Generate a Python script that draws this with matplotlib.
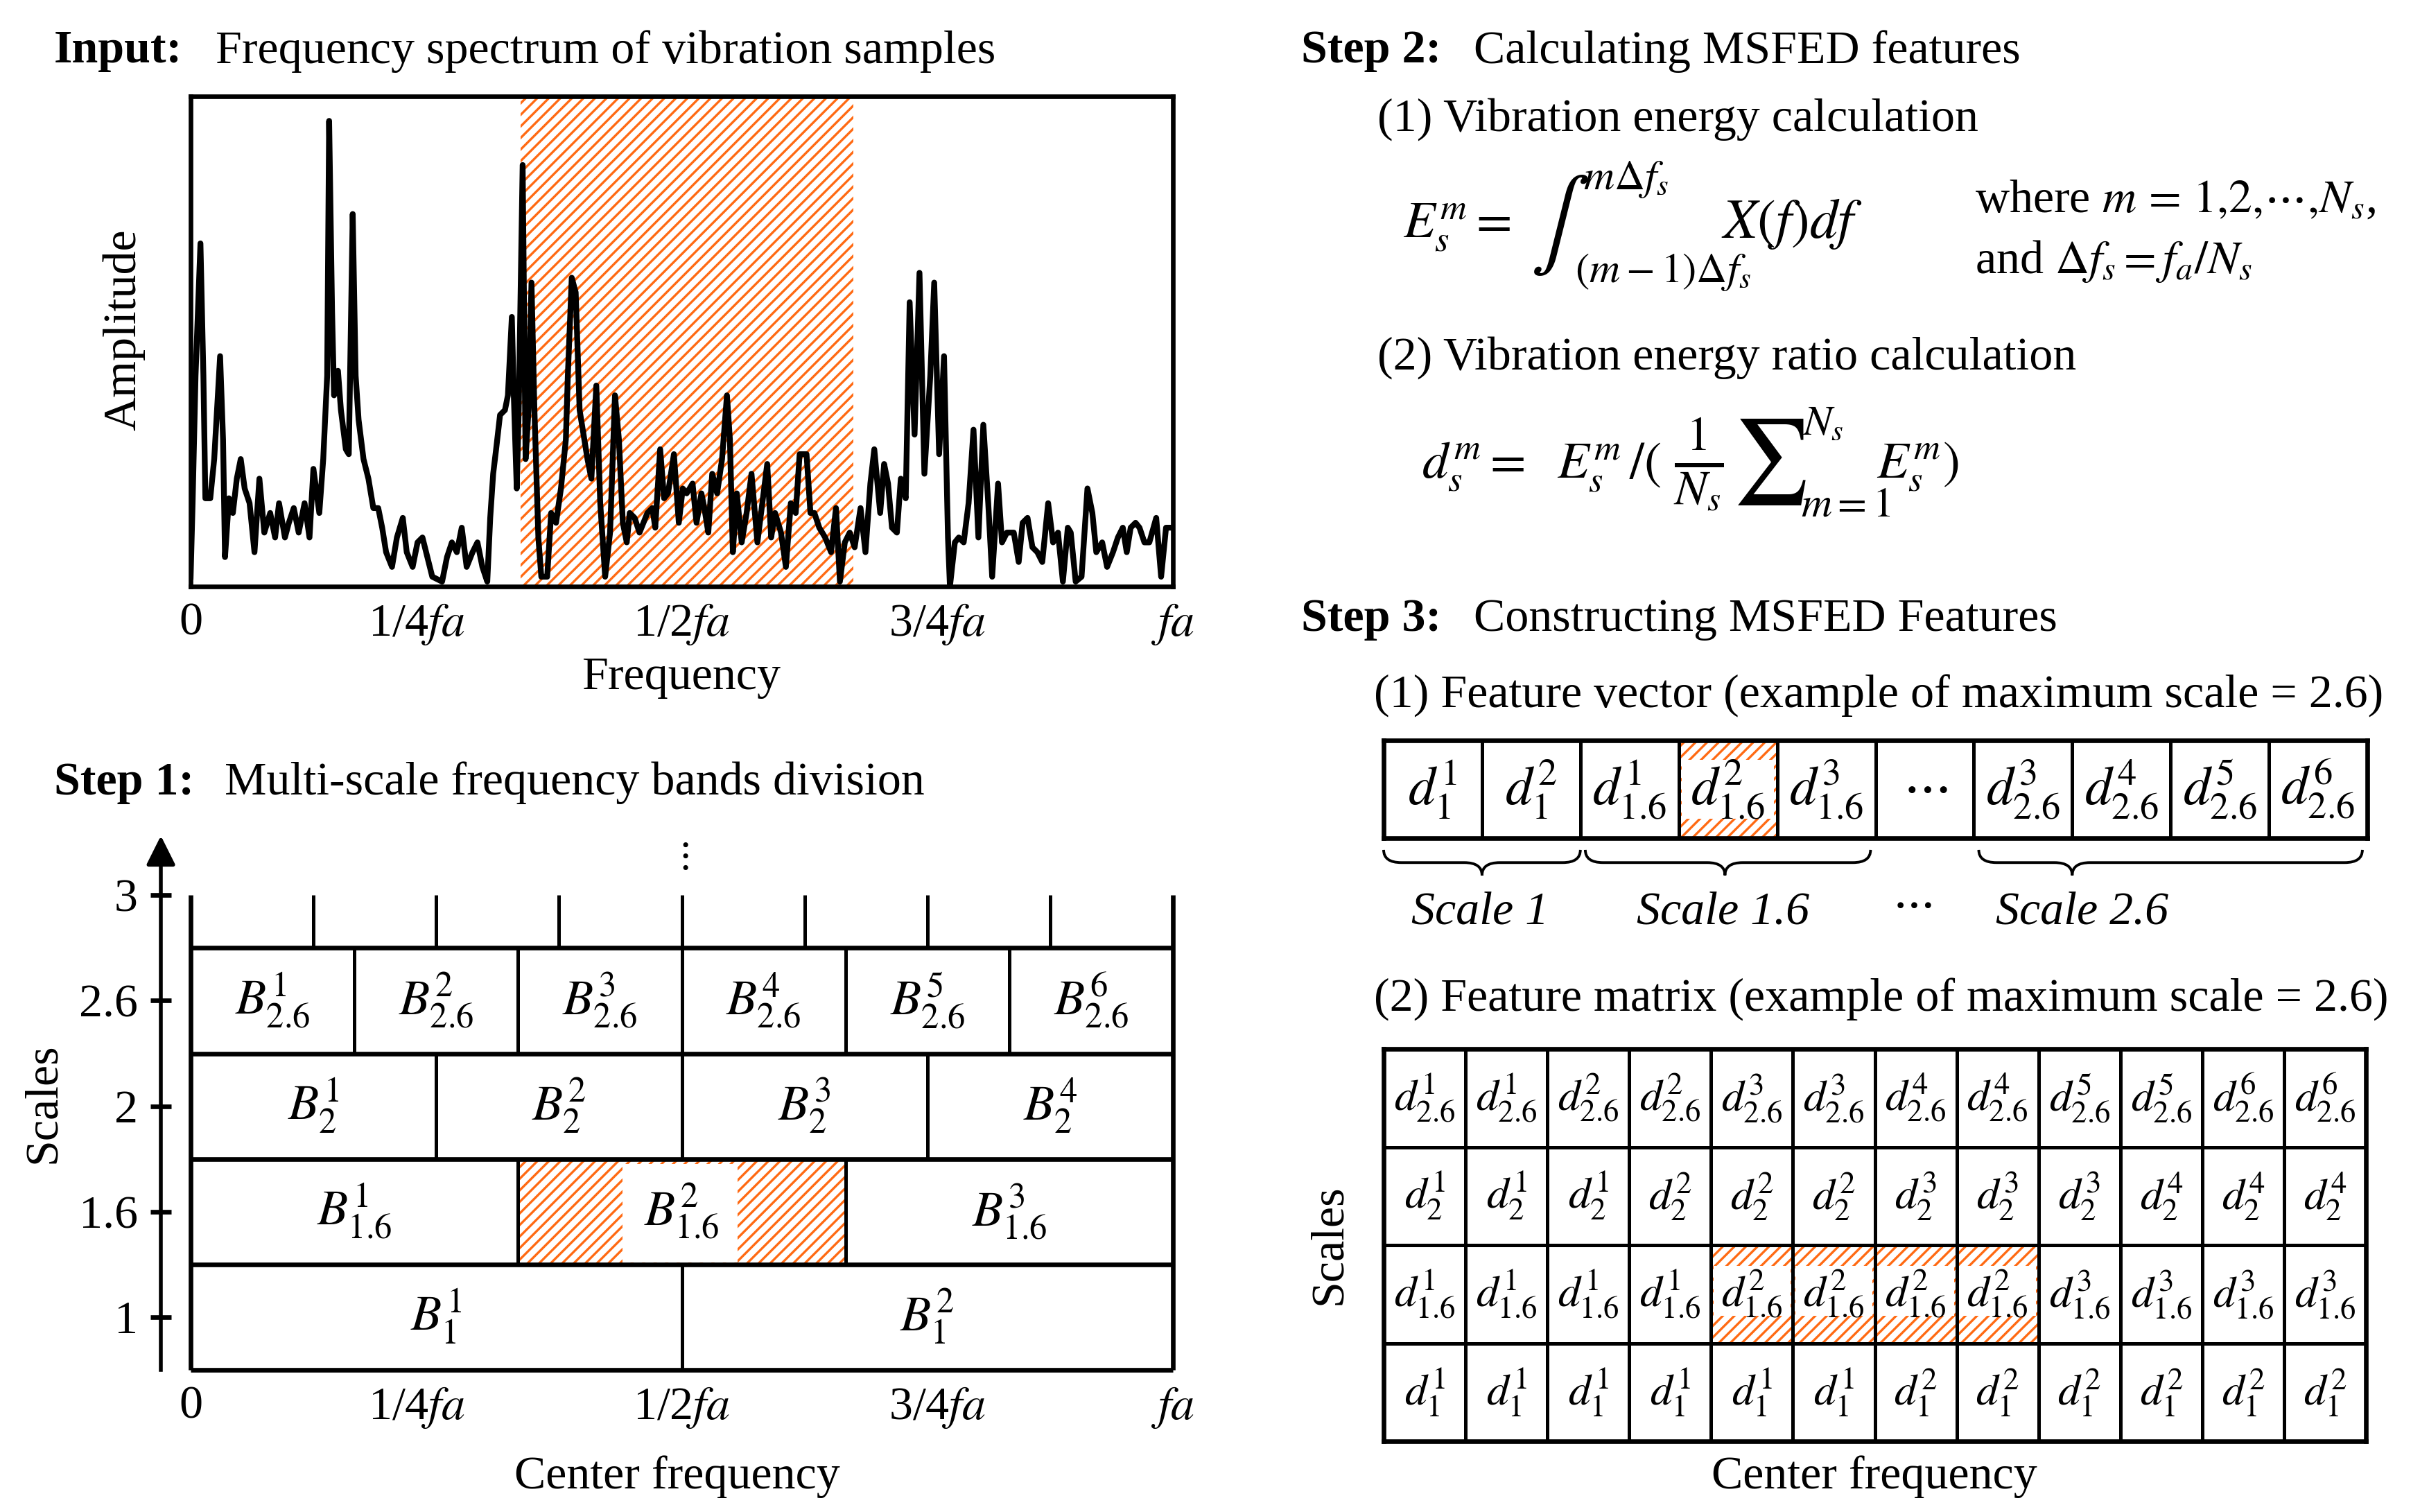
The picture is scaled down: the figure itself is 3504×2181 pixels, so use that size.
import matplotlib.pyplot as plt
import matplotlib.transforms as mtransforms
from matplotlib.patches import Rectangle, PathPatch
from matplotlib.path import Path

plt.rcParams['font.family'] = ['Liberation Serif', 'DejaVu Serif']
plt.rcParams['mathtext.fontset'] = 'stix'
plt.rcParams['hatch.linewidth'] = 1.2

ORANGE = '#FF6A13'
W, H = 3504, 2181

# spectrum, frequency in units of fa, amplitude normalised to the box height
freq_lo = [0.000, 0.002, 0.005, 0.010, 0.013, 0.015, 0.020, 0.024, 0.030, 0.033,
           0.035, 0.039, 0.043, 0.047, 0.051, 0.055, 0.060, 0.065, 0.070, 0.075,
           0.081, 0.086, 0.090, 0.096, 0.100, 0.105, 0.110, 0.116, 0.121, 0.125,
           0.131, 0.135, 0.139, 0.141, 0.144, 0.146, 0.150, 0.153, 0.158, 0.161,
           0.165, 0.168, 0.171, 0.176, 0.181, 0.186, 0.191, 0.195, 0.199, 0.205,
           0.210, 0.216, 0.220, 0.226, 0.231, 0.236, 0.241, 0.246, 0.256, 0.261,
           0.266, 0.271, 0.276, 0.281, 0.287, 0.292, 0.297, 0.302, 0.305, 0.308,
           0.311, 0.315, 0.320, 0.323, 0.327, 0.329, 0.332, 0.334, 0.338, 0.341,
           0.344, 0.347, 0.350, 0.354, 0.357, 0.363, 0.367, 0.372, 0.377, 0.382,
           0.384, 0.388, 0.392, 0.396, 0.400, 0.404, 0.408, 0.413, 0.417, 0.422,
           0.427, 0.432, 0.436, 0.440, 0.444, 0.447, 0.452, 0.457, 0.461, 0.465,
           0.470, 0.473, 0.478, 0.482, 0.486, 0.492, 0.497]
amp_lo = [0.02, 0.17, 0.43, 0.70, 0.43, 0.18, 0.18, 0.26, 0.47, 0.30,
          0.06, 0.18, 0.15, 0.22, 0.26, 0.20, 0.17, 0.07, 0.22, 0.11,
          0.15, 0.10, 0.17, 0.10, 0.13, 0.16, 0.11, 0.17, 0.10, 0.24,
          0.15, 0.26, 0.43, 0.95, 0.56, 0.39, 0.44, 0.36, 0.28, 0.27,
          0.76, 0.43, 0.34, 0.26, 0.22, 0.16, 0.16, 0.12, 0.07, 0.04,
          0.10, 0.14, 0.07, 0.04, 0.09, 0.10, 0.06, 0.02, 0.01, 0.06,
          0.09, 0.07, 0.12, 0.04, 0.07, 0.09, 0.04, 0.01, 0.14, 0.23,
          0.28, 0.35, 0.36, 0.39, 0.55, 0.39, 0.20, 0.36, 0.86, 0.26,
          0.36, 0.62, 0.36, 0.10, 0.02, 0.02, 0.15, 0.13, 0.20, 0.30,
          0.43, 0.63, 0.60, 0.36, 0.31, 0.26, 0.22, 0.41, 0.17, 0.02,
          0.11, 0.39, 0.30, 0.13, 0.09, 0.15, 0.14, 0.11, 0.13, 0.15,
          0.16, 0.12, 0.28, 0.18, 0.19, 0.27, 0.13]
freq_hi = [0.501, 0.505, 0.511, 0.515, 0.520, 0.523, 0.527, 0.531, 0.536, 0.541,
           0.546, 0.549, 0.552, 0.556, 0.561, 0.566, 0.571, 0.577, 0.582, 0.587,
           0.591, 0.595, 0.601, 0.606, 0.611, 0.616, 0.620, 0.627, 0.631, 0.635,
           0.640, 0.646, 0.652, 0.657, 0.661, 0.666, 0.671, 0.676, 0.682, 0.687,
           0.692, 0.696, 0.702, 0.706, 0.710, 0.714, 0.719, 0.723, 0.728, 0.732,
           0.737, 0.742, 0.747, 0.753, 0.757, 0.762, 0.767, 0.771, 0.773, 0.778,
           0.782, 0.787, 0.792, 0.797, 0.802, 0.807, 0.812, 0.816, 0.822, 0.826,
           0.831, 0.838, 0.843, 0.847, 0.852, 0.857, 0.862, 0.867, 0.873, 0.878,
           0.883, 0.888, 0.893, 0.896, 0.901, 0.907, 0.913, 0.918, 0.922, 0.928,
           0.933, 0.939, 0.944, 0.949, 0.953, 0.957, 0.962, 0.966, 0.971, 0.976,
           0.983, 0.988, 0.993, 0.997]
amp_hi = [0.20, 0.19, 0.21, 0.13, 0.19, 0.16, 0.11, 0.23, 0.19, 0.26,
          0.39, 0.30, 0.07, 0.19, 0.09, 0.15, 0.23, 0.09, 0.17, 0.25,
          0.10, 0.15, 0.11, 0.04, 0.17, 0.15, 0.27, 0.27, 0.15, 0.15,
          0.12, 0.10, 0.07, 0.16, 0.01, 0.09, 0.11, 0.08, 0.16, 0.07,
          0.21, 0.28, 0.15, 0.25, 0.21, 0.12, 0.11, 0.22, 0.18, 0.58,
          0.31, 0.64, 0.23, 0.43, 0.62, 0.27, 0.47, 0.10, 0.00, 0.09,
          0.10, 0.09, 0.17, 0.32, 0.10, 0.33, 0.17, 0.02, 0.21, 0.09,
          0.11, 0.11, 0.05, 0.13, 0.14, 0.08, 0.07, 0.05, 0.17, 0.09,
          0.11, 0.01, 0.12, 0.11, 0.01, 0.02, 0.20, 0.15, 0.07, 0.09,
          0.04, 0.07, 0.10, 0.12, 0.07, 0.12, 0.13, 0.12, 0.09, 0.09,
          0.14, 0.02, 0.12, 0.12]
band_sel = (0.336, 0.675)

tick_pos = [0, 0.23, 0.5, 0.76, 1]
tick_lab = ['0', '1/4$fa$', '1/2$fa$', '3/4$fa$', '$fa$']

# step 1: frequency bands per scale
scales = ['1', '1.6', '2', '2.6']
n_bands = [2, 3, 4, 6]
top_scale = '3'
top_bands = 8
sel_row, sel_band = 1, 1

# step 3: feature vector
vec_scale = ['1', '1', '1.6', '1.6', '1.6', None, '2.6', '2.6', '2.6', '2.6']
vec_band = [1, 2, 1, 2, 3, None, 3, 4, 5, 6]
vec_sel = 3
brace_lo = [0.0, 2.05, 6.05]
brace_hi = [2.0, 4.95, 9.95]
brace_tip = [1.0, 3.47, 7.0]
brace_lab = ['Scale 1', 'Scale 1.6', 'Scale 2.6']
brace_lab_x = [0.98, 3.45, 7.1]

# step 3: feature matrix, rows from bottom
mat_sup = {
    '1': [1, 1, 1, 1, 1, 1, 2, 2, 2, 2, 2, 2],
    '1.6': [1, 1, 1, 1, 2, 2, 2, 2, 3, 3, 3, 3],
    '2': [1, 1, 1, 2, 2, 2, 3, 3, 3, 4, 4, 4],
    '2.6': [1, 1, 2, 2, 3, 3, 4, 4, 5, 5, 6, 6],
}
mat_sel_row, mat_sel_cols = 1, [4, 5, 6, 7]


def fx(px):
    return px / W


def fy(py):
    return 1 - py / H


def axes_px(l, t, r, b):
    return fig.add_axes([l / W, 1 - b / H, (r - l) / W, (b - t) / H])


def hatch_cell(ax, x, y, w, h, inset):
    ax.add_patch(Rectangle((x, y), w, h, facecolor='none', edgecolor=ORANGE,
                           lw=0, hatch='////', zorder=1))
    x0, y0, x1, y1 = inset
    ax.add_patch(Rectangle((x + x0 * w, y + y0 * h), (x1 - x0) * w, (y1 - y0) * h,
                           facecolor='white', edgecolor='none', zorder=1.5))


def brace(ax, x0, x1, xt, y0=-0.12, y1=-0.25, y2=-0.38, r=0.18):
    verts = [(x0, y0), (x0, y1), (x0 + r, y1),
             (xt - r, y1), (xt, y1), (xt, y2),
             (xt, y1), (xt + r, y1),
             (x1 - r, y1), (x1, y1), (x1, y0)]
    codes = [Path.MOVETO, Path.CURVE3, Path.CURVE3,
             Path.LINETO, Path.CURVE3, Path.CURVE3,
             Path.CURVE3, Path.CURVE3,
             Path.LINETO, Path.CURVE3, Path.CURVE3]
    ax.add_patch(PathPatch(Path(verts, codes), fill=False, lw=1.4, clip_on=False))


fig = plt.figure(figsize=(W / 200, H / 200), dpi=200)
FS = 24.5
MFS = 27

# ---- Input: spectrum
ax1 = axes_px(275, 139, 1692, 846)
ax1.add_patch(Rectangle((band_sel[0], 0), band_sel[1] - band_sel[0], 1, facecolor='none',
                        edgecolor=ORANGE, lw=0, hatch='////', zorder=1))
ax1.plot(freq_lo + freq_hi, amp_lo + amp_hi, color='black', lw=3, zorder=3)
ax1.set_xlim(0, 1)
ax1.set_ylim(0, 1)
ax1.set_yticks([])
ax1.set_xticks(tick_pos, tick_lab)
ax1.tick_params(axis='x', length=0, pad=8, labelsize=FS)
for sp in ax1.spines.values():
    sp.set_linewidth(2.4)

fig.text(fx(78), fy(74), 'Input:', fontsize=FS, weight='bold', va='center')
fig.text(fx(311), fy(74), 'Frequency spectrum of vibration samples', fontsize=FS, va='center')
fig.text(fx(179), fy(476), 'Amplitude', fontsize=FS, rotation=90, ha='center', va='center')
fig.text(fx(983), fy(977), 'Frequency', fontsize=FS, ha='center', va='center')

# ---- Step 1: band division
ax2 = axes_px(275, 1200, 1692, 1976)
ax2.set_xlim(0, 1)
ax2.set_ylim(0, 5.1)
for i, (s, n) in enumerate(zip(scales, n_bands)):
    if i == sel_row:
        hatch_cell(ax2, sel_band / n, i, 1 / n, 1, (0.32, 0.02, 0.67, 0.95))
    ax2.hlines(i, 0, 1, color='black', lw=2.4, clip_on=False, zorder=2)
    for k in range(1, n):
        ax2.vlines(k / n, i, i + 1, color='black', lw=1.8, zorder=2)
    for k in range(n):
        ax2.text((k + 0.5) / n, i + 0.5, f'$B_{{{s}}}^{{{k + 1}}}$', fontsize=26,
                 ha='center', va='center', zorder=3)
ax2.hlines(len(scales), 0, 1, color='black', lw=2.4, zorder=2)
ax2.vlines([k / top_bands for k in range(1, top_bands)], len(scales), len(scales) + 0.5,
           color='black', lw=1.8)
ax2.vlines([0, 1], 0, len(scales) + 0.5, color='black', lw=2.4, clip_on=False)
ax2.text(0.5, len(scales) + 0.87, r'$\vdots$', fontsize=20, ha='center', va='center')

for side in ['top', 'right', 'bottom']:
    ax2.spines[side].set_visible(False)
ax2.spines['left'].set_position(('axes', -0.0303))
ax2.spines['left'].set_bounds(0, 4.9)
ax2.spines['left'].set_linewidth(2)
ax2.set_yticks([i + 0.5 for i in range(len(scales) + 1)], scales + [top_scale])
ax2.set_xticks(tick_pos, tick_lab)
ax2.tick_params(axis='x', length=0, pad=8, labelsize=FS)
ax2.tick_params(axis='y', direction='inout', length=11, width=2.4, pad=6.5, labelsize=FS)
trans = mtransforms.blended_transform_factory(ax2.transAxes, ax2.transData)
ax2.annotate('', xy=(-0.0303, 5.1), xytext=(-0.0303, 4.75), xycoords=trans, textcoords=trans,
             arrowprops=dict(arrowstyle='-|>', color='black', lw=2, mutation_scale=32),
             annotation_clip=False)

fig.text(fx(78), fy(1129), 'Step 1:', fontsize=FS, weight='bold', va='center')
fig.text(fx(324), fy(1129), 'Multi-scale frequency bands division', fontsize=FS, va='center')
fig.text(fx(63), fy(1591), 'Scales', fontsize=FS, rotation=90, ha='center', va='center')
fig.text(fx(977), fy(2130), 'Center frequency', fontsize=FS, ha='center', va='center')

# ---- Step 2: formulas
fig.text(fx(1877), fy(74), 'Step 2:', fontsize=FS, weight='bold', va='center')
fig.text(fx(2126), fy(74), 'Calculating MSFED features', fontsize=FS, va='center')
fig.text(fx(1987), fy(172), '(1) Vibration energy calculation', fontsize=FS, va='center')
fig.text(fx(2024), fy(343), r'$E_s^m =$', fontsize=MFS, va='baseline')
fig.text(fx(2208), fy(325), r'$\int$', fontsize=46, va='center')
fig.text(fx(2284), fy(259), r'$m\Delta f_s$', fontsize=22, va='center')
fig.text(fx(2272), fy(392), r'$(m-1)\Delta f_s$', fontsize=22, va='center')
fig.text(fx(2483), fy(343), r'$X(f)df$', fontsize=29, va='baseline')
fig.text(fx(2849), fy(289), r'where $m\, =\, 1{,}2{,}\cdots{,}N_s$,', fontsize=FS, va='center')
fig.text(fx(2849), fy(377), r'and $\Delta f_s = f_a/N_s$', fontsize=FS, va='center')
fig.text(fx(1987), fy(516), '(2) Vibration energy ratio calculation', fontsize=FS, va='center')
fig.text(fx(2051), fy(690), r'$d_s^m =$', fontsize=MFS, va='baseline')
fig.text(fx(2246), fy(690), r'$E_s^m$', fontsize=MFS, va='baseline')
fig.text(fx(2350), fy(690), r'$/($', fontsize=MFS, va='baseline')
fig.text(fx(2414), fy(670), r'$\frac{1}{N_s}$', fontsize=36, va='center')
fig.text(fx(2499), fy(666), r'$\sum$', fontsize=44, va='center')
fig.text(fx(2600), fy(612), r'$N_s$', fontsize=22, va='center')
fig.text(fx(2598), fy(730), r'$m=1$', fontsize=22, va='center')
fig.text(fx(2707), fy(690), r'$E_s^m)$', fontsize=MFS, va='baseline')

# ---- Step 3: feature vector
fig.text(fx(1877), fy(894), 'Step 3:', fontsize=FS, weight='bold', va='center')
fig.text(fx(2126), fy(894), 'Constructing MSFED Features', fontsize=FS, va='center')
fig.text(fx(1982), fy(1004), '(1) Feature vector (example of maximum scale = 2.6)',
         fontsize=FS, va='center')

ax3 = axes_px(1996, 1068, 3415, 1209)
ax3.set_xlim(0, len(vec_scale))
ax3.set_ylim(0, 1)
for j, (s, b) in enumerate(zip(vec_scale, vec_band)):
    if j == vec_sel:
        hatch_cell(ax3, j, 0, 1, 1, (0.03, 0.2, 0.97, 0.8))
    ax3.add_patch(Rectangle((j, 0), 1, 1, fill=False, ec='black', lw=1.8, zorder=2))
    lab = r'$\cdots$' if s is None else f'$d_{{{s}}}^{{{b}}}$'
    ax3.text(j + 0.5, 0.5, lab, fontsize=28, ha='center', va='center', zorder=3)
for lo, hi, tip in zip(brace_lo, brace_hi, brace_tip):
    brace(ax3, lo, hi, tip)
for x, lab in zip(brace_lab_x, brace_lab):
    ax3.text(x, -0.76, lab, fontsize=FS, style='italic', ha='center', va='center')
ax3.text(5.37, -0.68, r'$\cdots$', fontsize=FS, ha='center', va='center')
ax3.set_xticks([])
ax3.set_yticks([])
for sp in ax3.spines.values():
    sp.set_linewidth(2.4)

# ---- Step 3: feature matrix
fig.text(fx(1982), fy(1442), '(2) Feature matrix (example of maximum scale = 2.6)',
         fontsize=FS, va='center')
ax4 = axes_px(1996, 1513, 3413, 2079)
ncol = len(mat_sup['1'])
ax4.set_xlim(0, ncol)
ax4.set_ylim(0, len(scales))
for i, s in enumerate(scales):
    for j, b in enumerate(mat_sup[s]):
        if i == mat_sel_row and j in mat_sel_cols:
            hatch_cell(ax4, j, i, 1, 1, (0.03, 0.28, 0.97, 0.79))
        ax4.add_patch(Rectangle((j, i), 1, 1, fill=False, ec='black', lw=1.8, zorder=2))
        ax4.text(j + 0.5, i + 0.5, f'$d_{{{s}}}^{{{b}}}$', fontsize=23,
                 ha='center', va='center', zorder=3)
ax4.set_xticks([])
ax4.set_yticks([])
for sp in ax4.spines.values():
    sp.set_linewidth(2.4)
fig.text(fx(1918), fy(1795), 'Scales', fontsize=FS, rotation=90, ha='center', va='center')
fig.text(fx(2704), fy(2130), 'Center frequency', fontsize=FS, ha='center', va='center')

fig.savefig('out.png', dpi=200)
